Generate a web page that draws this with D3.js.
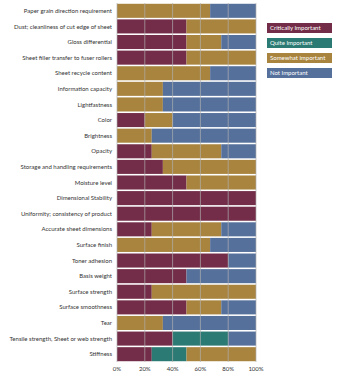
<!DOCTYPE html>
<html>
<head>
<meta charset="utf-8">
<script src="https://cdn.jsdelivr.net/npm/d3@7"></script>
<style>
  body { margin: 0; background: #fff; }
  text { font-family: Lato, "Open Sans", sans-serif; }
</style>
</head>
<body>
<div id="chart"></div>
<script>
// Atributs del paper i importància (percentatge de respostes)
const attributes = [
    'Paper grain direction requirement',
    'Dust; cleanliness of cut edge of sheet',
    'Gloss differential',
    'Sheet filler transfer to fuser rollers',
    'Sheet recycle content',
    'Information capacity',
    'Lightfastness',
    'Color',
    'Brightness',
    'Opacity',
    'Storage and handling requirements',
    'Moisture level',
    'Dimensional Stability',
    'Uniformity; consistency of product',
    'Accurate sheet dimensions',
    'Surface finish',
    'Toner adhesion',
    'Basis weight',
    'Surface strength',
    'Surface smoothness',
    'Tear',
    'Tensile strength, Sheet or web strength',
    'Stiffness'
];

const critical = [0, 50, 50, 50, 0, 0, 0, 20, 0, 25, 33, 50, 100, 100, 25, 0, 80, 50, 25, 50, 0, 40, 25];
const quite    = [0, 0, 0, 0, 0, 0, 0, 0, 0, 0, 0, 0, 0, 0, 0, 0, 0, 0, 0, 0, 0, 40, 25];
const somewhat = [67, 50, 25, 50, 67, 33, 33, 20, 25, 50, 67, 50, 0, 0, 50, 67, 0, 0, 75, 25, 33, 0, 50];
const notImp   = [33, 0, 25, 0, 33, 67, 67, 60, 75, 25, 0, 0, 0, 0, 25, 33, 20, 50, 0, 25, 67, 20, 0];

const seriesNames = ['Critically Important', 'Quite Important', 'Somewhat important', 'Not Important'];
const seriesColors = ['#732d48', '#2b7a73', '#a8843f', '#55709b'];
const xTicks = [0, 20, 40, 60, 80, 100];

const W = 340, H = 379;
const margin = { top: 3, right: 84, bottom: 17, left: 117 };

const rows = attributes.map((a, i) => ({
    label: a,
    c: critical[i], q: quite[i], s: somewhat[i], n: notImp[i]
}));

const svg = d3.select('#chart').append('svg')
    .attr('width', W)
    .attr('height', H);

const x = d3.scaleLinear()
    .domain([0, 100])
    .range([margin.left, W - margin.right]);

const y = d3.scaleBand()
    .domain(attributes)
    .range([margin.top, H - margin.bottom])
    .paddingInner(0.1)
    .paddingOuter(0.05);

const stack = d3.stack().keys(['c', 'q', 's', 'n']);
const layers = stack(rows);

svg.selectAll('.layer')
    .data(layers)
    .enter().append('g')
    .attr('class', 'layer')
    .attr('fill', (d, i) => seriesColors[i])
    .selectAll('rect')
    .data(d => d)
    .enter().append('rect')
    .attr('x', d => x(d[0]))
    .attr('y', d => y(d.data.label))
    .attr('width', d => x(d[1]) - x(d[0]))
    .attr('height', y.bandwidth());

// línies de la quadrícula per sobre de les barres
svg.append('g')
    .selectAll('line')
    .data(xTicks)
    .enter().append('line')
    .attr('x1', d => x(d))
    .attr('x2', d => x(d))
    .attr('y1', margin.top)
    .attr('y2', H - margin.bottom)
    .attr('stroke', '#b0b0b0')
    .attr('stroke-opacity', 0.85)
    .attr('stroke-width', 0.8);

// etiquetes de l'eix X
svg.append('g')
    .selectAll('text')
    .data(xTicks)
    .enter().append('text')
    .attr('x', d => x(d))
    .attr('y', H - 8)
    .attr('text-anchor', 'middle')
    .style('font-size', '6px')
    .attr('fill', '#333')
    .text(d => d + '%');

// etiquetes de les categories
svg.append('g')
    .selectAll('text')
    .data(attributes)
    .enter().append('text')
    .attr('x', margin.left - 5)
    .attr('y', d => y(d) + y.bandwidth() / 2)
    .attr('dy', '0.35em')
    .attr('text-anchor', 'end')
    .style('font-size', '6px')
    .attr('fill', '#333')
    .text(d => d);

// llegenda
const legend = svg.append('g')
    .selectAll('g')
    .data(seriesNames)
    .enter().append('g')
    .attr('transform', (d, i) => `translate(267,${23 + i * 15})`);

legend.append('rect')
    .attr('width', 65)
    .attr('height', 10)
    .attr('fill', (d, i) => seriesColors[i]);

legend.append('text')
    .attr('x', 3)
    .attr('y', 5)
    .attr('dy', '0.35em')
    .style('font-size', '6px')
    .attr('fill', '#fff')
    .text(d => d);
</script>
</body>
</html>
